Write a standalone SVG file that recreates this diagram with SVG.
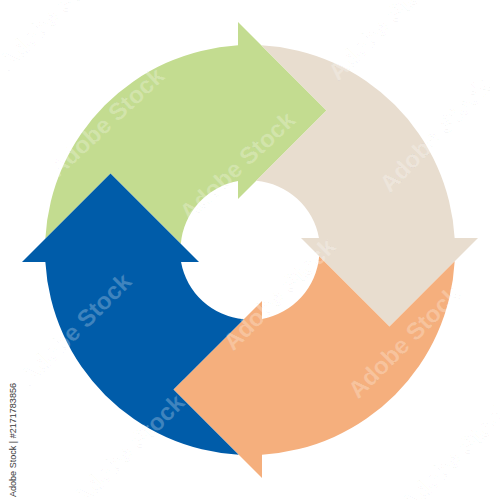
<svg xmlns="http://www.w3.org/2000/svg" xmlns:xlink="http://www.w3.org/1999/xlink" width="500" height="500" viewBox="0 0 500 500">
  <style>
    .wm { font-family: "Liberation Sans", Arial, sans-serif; font-weight: bold; font-size: 24px; fill: #ffffff; fill-opacity: 0.25; stroke: #000000; stroke-opacity: 0.03; stroke-width: 1; text-anchor: middle; }
    .credit { font-family: "Liberation Sans", Arial, sans-serif; font-size: 9px; fill: #3a3a3a; }
  </style>
  <defs>
    <path id="arrow" d="M 45.31,238.69 A 205 205 0 0 1 238,45.35 L 238,22 L 326.5,110.5 L 238,199 L 238,181.04 A 70 70 0 0 0 180.82,243.82 L 110.5,173.5 Z"/>
  </defs>
  <rect width="500" height="500" fill="#ffffff"/>
  <g id="connectors"></g>
  <g id="arrow-green"><use xlink:href="#arrow" href="#arrow" fill="#C3DC90"/></g>
  <g id="arrow-beige"><use xlink:href="#arrow" href="#arrow" fill="#E8DDCF" transform="rotate(90 250 250)"/></g>
  <g id="arrow-orange"><use xlink:href="#arrow" href="#arrow" fill="#F5AF7D" transform="rotate(180 250 250)"/></g>
  <g id="arrow-blue"><use xlink:href="#arrow" href="#arrow" fill="#005CA9" transform="rotate(270 250 250)"/></g>
  <g id="watermark">
    <text class="wm" transform="translate(112,128) rotate(-43)">Adobe Stock</text>
    <text class="wm" transform="translate(441,141) rotate(-46)">Adobe Stock</text>
    <text class="wm" transform="translate(81,335) rotate(-45)">Adobe Stock</text>
    <text class="wm" transform="translate(410,348) rotate(-45)">Adobe Stock</text>
    <text class="wm" transform="translate(243,172) rotate(-43)">Adobe Stock</text>
    <text class="wm" transform="translate(285,300) rotate(-45)">Adobe Stock</text>
    <text class="wm" transform="translate(134,456) rotate(-45)">Adobe Stock</text>
    <text class="wm" transform="translate(462,462) rotate(-45)">Adobe Stock</text>
    <text class="wm" transform="translate(390,30) rotate(-45)">Adobe Stock</text>
    <text class="wm" transform="translate(60,20) rotate(-45)">Adobe Stock</text>
  </g>
  <text class="credit" transform="translate(16,497) rotate(-90)" textLength="114" lengthAdjust="spacingAndGlyphs">Adobe Stock | #2171783856</text>
</svg>
